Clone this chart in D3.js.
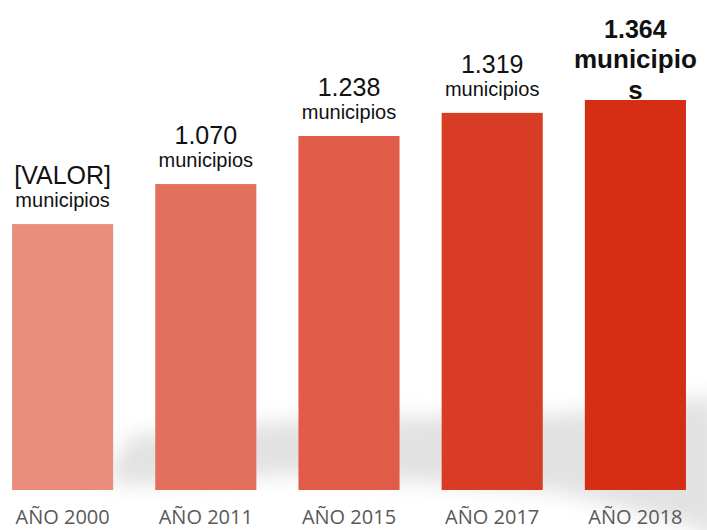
<!DOCTYPE html>
<html lang="es">
  <head>
    <meta charset="utf-8">
    <title>Municipios</title>
    <script src="https://cdn.jsdelivr.net/npm/d3@7"></script>
    <style>
      body { margin: 0; background: #fff; }
      .lbl { font-family: "Liberation Sans", Arial, sans-serif; fill: #111; }
      .axis-lbl { font-family: "Open Sans", sans-serif; fill: #595959; }
    </style>
  </head>
  <body>
    <script>
      var w = 707, h = 530;
      var years = ["AÑO 2000", "AÑO 2011", "AÑO 2015", "AÑO 2017", "AÑO 2018"];
      var values = [930, 1070, 1238, 1319, 1364];
      var valueLabels = ["[VALOR]", "1.070", "1.238", "1.319", "1.364"];
      var colors = ["#e88e7b", "#e3705d", "#e05c48", "#d93c24", "#d52e14"];

      var data = years.map(function(y, i) {
        return { year: y, value: values[i], label: valueLabels[i], color: colors[i], i: i };
      });

      var xScale = d3.scaleBand()
        .domain(years)
        .range([-9, 707])
        .paddingInner(0.294)
        .paddingOuter(0.147);

      var yScale = d3.scaleLinear()
        .domain([0, 1364])
        .range([490, 100]);

      var svg = d3.select("body").append("svg")
        .attr("width", w)
        .attr("height", h);

      var defs = svg.append("defs");
      defs.append("filter").attr("id", "blur")
        .attr("filterUnits", "userSpaceOnUse")
        .attr("x", 0).attr("y", 300).attr("width", w).attr("height", 260)
        .append("feGaussianBlur").attr("stdDeviation", 10);

      // soft diagonal shadow behind the bars
      var shadow = [[105, 478], [130, 436], [300, 420], [560, 414], [720, 396],
                    [720, 545], [690, 525], [560, 492], [300, 474], [130, 486]];
      svg.append("path")
        .attr("d", d3.line()(shadow) + "Z")
        .attr("fill", "#e2e2e2")
        .attr("filter", "url(#blur)");

      svg.selectAll("rect.bar")
        .data(data)
        .enter()
        .append("rect")
        .attr("class", "bar")
        .attr("x", function(d) { return xScale(d.year); })
        .attr("y", function(d) { return yScale(d.value); })
        .attr("width", xScale.bandwidth())
        .attr("height", function(d) { return yScale(0) - yScale(d.value); })
        .attr("fill", function(d) { return d.color; });

      // value labels
      data.forEach(function(d) {
        var cx = xScale(d.year) + xScale.bandwidth() / 2;
        var top = yScale(d.value);
        var g = svg.append("g").attr("class", "lbl").attr("text-anchor", "middle");
        if (d.i === data.length - 1) {
          g.append("text").attr("x", cx).attr("y", top - 62)
            .style("font-size", "25px").style("font-weight", "bold").text(d.label);
          g.append("text").attr("x", cx).attr("y", top - 32)
            .style("font-size", "26px").style("font-weight", "bold").text("municipio");
          g.append("text").attr("x", cx).attr("y", top - 1)
            .style("font-size", "26px").style("font-weight", "bold").text("s");
        } else {
          g.append("text").attr("x", cx).attr("y", top - 40)
            .style("font-size", "25px").text(d.label);
          g.append("text").attr("x", cx).attr("y", top - 17)
            .style("font-size", "20px").text("municipios");
        }
      });

      // x axis labels
      svg.selectAll("text.axis-lbl")
        .data(years)
        .enter()
        .append("text")
        .attr("class", "axis-lbl")
        .attr("x", function(d) { return xScale(d) + xScale.bandwidth() / 2; })
        .attr("y", 524)
        .attr("text-anchor", "middle")
        .style("font-size", "20px")
        .text(function(d) { return d; });
    </script>
  </body>
</html>
